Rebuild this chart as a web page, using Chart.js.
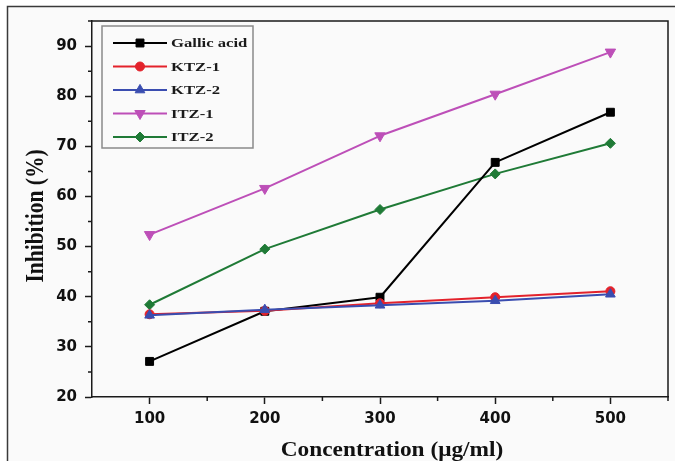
<!DOCTYPE html>
<html>
<head>
<meta charset="utf-8">
<script src="https://cdn.jsdelivr.net/npm/chart.js@4"></script>
<style>
  html, body { margin: 0; padding: 0; background: #ffffff; }
  #wrap { width: 675px; height: 461px; position: relative; }
  canvas { display: block; }
</style>
</head>
<body>
<div id="wrap"><canvas id="c" width="675" height="461"></canvas></div>
<script>
// Concentrations (µg/ml) and % inhibition for each sample
const concentrations = [100, 200, 300, 400, 500];
const gallicAcid = [27.1, 37.1, 39.9, 66.8, 76.8];
const ktz1 = [36.5, 37.2, 38.7, 39.9, 41.1];
const ktz2 = [36.3, 37.4, 38.3, 39.2, 40.5];
const itz1 = [52.4, 61.6, 72.1, 80.4, 88.8];
const itz2 = [38.4, 49.5, 57.4, 64.5, 70.6];

// Axis ticks
const xMajorTicks = [100, 200, 300, 400, 500];
const xMinorTicks = [150, 250, 350, 450, 550];
const yMajorTicks = [20, 30, 40, 50, 60, 70, 80, 90];
const yMinorTicks = [25, 35, 45, 55, 65, 75, 85, 95];

const AXIS_COLOR = '#1a1a1a';
const TICK_FONT = { family: "'DejaVu Sans', 'Liberation Sans', sans-serif", weight: 'bold', size: 15 };
const SERIF = "'Liberation Serif', 'Times New Roman', serif";

function series(label, values, color, pointStyle, radius, rotation, order) {
  return {
    label,
    data: concentrations.map((c, i) => ({ x: c, y: values[i] })),
    borderColor: color,
    backgroundColor: color,
    borderWidth: 2,
    pointStyle,
    pointRadius: radius,
    pointRotation: rotation,
    pointBorderWidth: 1,
    pointBorderColor: color,
    pointBackgroundColor: color,
    tension: 0,
    order
  };
}

const datasets = [
  series('Gallic acid', gallicAcid, '#000000', 'rect', 5.6, 0, 2),
  series('KTZ-1', ktz1, '#e3222b', 'circle', 4.5, 0, 1),
  series('KTZ-2', ktz2, '#3a4db0', 'triangle', 5.6, 0, 0),
  series('ITZ-1', itz1, '#bd4fb8', 'triangle', 6, 180, 4),
  series('ITZ-2', itz2, '#1f7a36', 'rectRot', 5, 0, 3)
];

// Fallback marker drawing if the helper is unavailable
function drawMarker(ctx, style, r, rot, x, y, color) {
  if (window.Chart && Chart.helpers && Chart.helpers.drawPoint) {
    ctx.fillStyle = color;
    ctx.strokeStyle = color;
    ctx.lineWidth = 1;
    Chart.helpers.drawPoint(ctx, { pointStyle: style, radius: r, rotation: rot, borderWidth: 1 }, x, y);
    return;
  }
  ctx.save();
  ctx.fillStyle = color;
  ctx.beginPath();
  ctx.arc(x, y, r, 0, Math.PI * 2);
  ctx.fill();
  ctx.restore();
}

// Text drawn with a horizontal stretch factor (wide bold serif look)
function wideText(ctx, text, x, y, sx) {
  ctx.save();
  ctx.translate(x, y);
  ctx.scale(sx, 1);
  ctx.fillText(text, 0, 0);
  ctx.restore();
}

const framePlugin = {
  id: 'frame',
  beforeDraw(chart) {
    const ctx = chart.ctx;
    ctx.save();
    ctx.fillStyle = '#fafafa';
    ctx.fillRect(7, 6, chart.width - 7, chart.height - 6);
    ctx.strokeStyle = '#3a3a3a';
    ctx.lineWidth = 1.5;
    ctx.beginPath();
    ctx.moveTo(7.5, chart.height);
    ctx.lineTo(7.5, 6.5);
    ctx.lineTo(chart.width, 6.5);
    ctx.stroke();
    ctx.restore();
  },
  afterDraw(chart) {
    const ctx = chart.ctx;
    const a = chart.chartArea;
    const xs = chart.scales.x, ys = chart.scales.y;
    ctx.save();
    ctx.strokeStyle = AXIS_COLOR;
    ctx.lineWidth = 1.5;
    // top and right border of the plot box
    ctx.beginPath();
    ctx.moveTo(a.left, a.top);
    ctx.lineTo(a.right, a.top);
    ctx.lineTo(a.right, a.bottom);
    ctx.stroke();
    // minor ticks
    ctx.beginPath();
    xMinorTicks.forEach(v => {
      const px = xs.getPixelForValue(v);
      ctx.moveTo(px, a.bottom);
      ctx.lineTo(px, a.bottom + 4);
    });
    yMinorTicks.forEach(v => {
      const py = ys.getPixelForValue(v);
      ctx.moveTo(a.left, py);
      ctx.lineTo(a.left - 4, py);
    });
    ctx.stroke();

    // axis titles
    ctx.fillStyle = '#111';
    ctx.font = 'bold 21.5px ' + SERIF;
    ctx.textAlign = 'center';
    ctx.textBaseline = 'alphabetic';
    wideText(ctx, 'Concentration (\u03bcg/ml)', 392, 456, 1.085);
    ctx.save();
    ctx.translate(43, 216);
    ctx.rotate(-Math.PI / 2);
    ctx.scale(1, 1.2);
    ctx.fillText('Inhibition (%)', 0, 0);
    ctx.restore();

    // legend
    const box = { l: 102, t: 26, r: 253, b: 148 };
    ctx.fillStyle = '#fafafa';
    ctx.fillRect(box.l, box.t, box.r - box.l, box.b - box.t);
    ctx.strokeStyle = '#8a8a8a';
    ctx.lineWidth = 1.5;
    ctx.strokeRect(box.l, box.t, box.r - box.l, box.b - box.t);
    ctx.font = 'bold 13px ' + SERIF;
    ctx.textAlign = 'left';
    ctx.textBaseline = 'middle';
    chart.data.datasets.forEach((ds, i) => {
      const y = 43 + i * 23.5;
      ctx.strokeStyle = ds.borderColor;
      ctx.lineWidth = 2;
      ctx.beginPath();
      ctx.moveTo(113, y);
      ctx.lineTo(167, y);
      ctx.stroke();
      drawMarker(ctx, ds.pointStyle, ds.pointRadius, ds.pointRotation, 140, y, ds.borderColor);
      ctx.fillStyle = '#1a1a1a';
      wideText(ctx, ds.label, 171, y + 1, 1.28);
    });
    ctx.restore();
  }
};

new Chart(document.getElementById('c'), {
  type: 'line',
  data: { datasets },
  options: {
    responsive: false,
    animation: false,
    devicePixelRatio: 1,
    layout: { padding: { top: 21, right: 7, left: 0, bottom: 0 } },
    plugins: { legend: { display: false }, tooltip: { enabled: false } },
    elements: { line: { borderCapStyle: 'round', borderJoinStyle: 'round' } },
    scales: {
      x: {
        type: 'linear',
        min: 50,
        max: 550,
        afterBuildTicks: s => { s.ticks = xMajorTicks.map(v => ({ value: v })); },
        afterFit: s => { s.height = 64; },
        grid: { drawOnChartArea: false, drawTicks: true, tickLength: 7, tickWidth: 1.5, tickColor: AXIS_COLOR },
        border: { color: AXIS_COLOR, width: 1.5 },
        ticks: { font: TICK_FONT, color: '#111', padding: 6, maxRotation: 0, autoSkip: false }
      },
      y: {
        min: 20,
        max: 95,
        afterBuildTicks: s => { s.ticks = yMajorTicks.map(v => ({ value: v })); },
        afterFit: s => { s.width = 92; },
        grid: { drawOnChartArea: false, drawTicks: true, tickLength: 7, tickWidth: 1.5, tickColor: AXIS_COLOR },
        border: { color: AXIS_COLOR, width: 1.5 },
        ticks: { font: TICK_FONT, color: '#111', padding: 8, autoSkip: false }
      }
    }
  },
  plugins: [framePlugin]
});
</script>
</body>
</html>
